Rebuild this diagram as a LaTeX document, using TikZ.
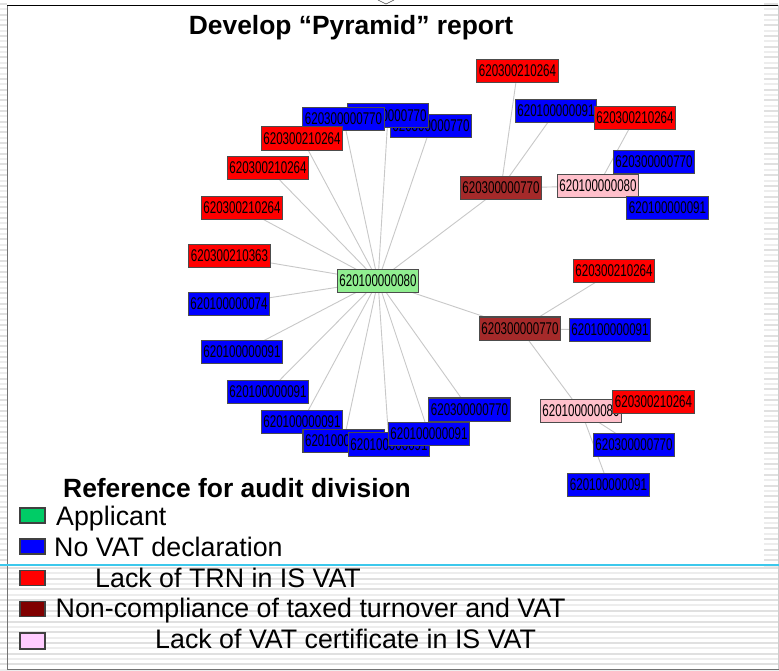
\documentclass[tikz,border=0pt]{standalone}
\usepackage{fontspec}
\setmainfont{Liberation Sans}
\newfontfamily\idfont[FakeStretch=0.68]{Liberation Sans}

\definecolor{appgreen}{HTML}{90EE90}
\definecolor{novat}{HTML}{0000FF}
\definecolor{notrn}{HTML}{FF0000}
\definecolor{mismatch}{HTML}{A52A2A}
\definecolor{nocert}{HTML}{FFC0CB}
\definecolor{keygreen}{HTML}{00CC66}
\definecolor{keymaroon}{HTML}{800000}
\definecolor{keypink}{HTML}{FFCCFF}
\definecolor{stripe}{HTML}{E0E0E0}
\definecolor{faintstripe}{HTML}{EDEDED}
\definecolor{rulecyan}{HTML}{3CC8EC}
\definecolor{linkgray}{HTML}{C8C8C8}

\pgfdeclarelayer{backdrop}
\pgfdeclarelayer{links}
\pgfsetlayers{backdrop,links,main}

\tikzset{
  idbox/.style={draw=black!70, line width=1.1pt, minimum width=81.5pt,
    minimum height=23.5pt, inner sep=0pt, text=black,
    font=\idfont\fontsize{17}{17}\selectfont},
  applicant/.style={idbox, fill=appgreen},
  novatdecl/.style={idbox, fill=novat},
  notrnbox/.style={idbox, fill=notrn},
  mismatchbox/.style={idbox, fill=mismatch},
  nocertbox/.style={idbox, fill=nocert},
  link/.style={draw=linkgray, line width=0.9pt},
  keybox/.style={draw=black!75, line width=1.1pt, minimum width=25pt,
    minimum height=15pt, inner sep=0pt},
  keytext/.style={anchor=base west, inner sep=0pt,
    font=\fontsize{26.8}{30}\selectfont},
}

\begin{document}
\begin{tikzpicture}[x=1pt,y=-1pt]
\useasboundingbox (0,0) rectangle (779,671);

% slide backdrop: white page, striped margins and striped footer band
\begin{pgfonlayer}{backdrop}
  \fill[white] (0,0) rectangle (779,671);
  \foreach \k in {0,...,52} {
    \pgfmathsetmacro\yy{3+\k*10.7}
    \pgfmathsetmacro\yw{8.35+\k*10.7}
    \fill[stripe] (0,\yy) rectangle (7,\yy+2);
    \fill[stripe] (764,\yy) rectangle (778,\yy+2);
    \fill[faintstripe] (0,\yw) rectangle (7,\yw+2);
    \fill[faintstripe] (764,\yw) rectangle (778,\yw+2);
  }
  \foreach \k in {0,...,9} {
    \pgfmathsetmacro\yy{567+\k*10.7}
    \pgfmathsetmacro\yw{572.35+\k*10.7}
    \fill[stripe] (0,\yy) rectangle (779,\yy+2);
    \fill[faintstripe] (0,\yw) rectangle (779,\yw+2);
  }
  \draw[black!55, line width=1.6pt] (7.5,5) -- (7.5,670);
  \draw[black!20, line width=1pt] (778.3,5) -- (778.3,670);
  \draw[black, line width=1.3pt] (7,5.5) -- (778,5.5);
  \draw[black!55, line width=1.6pt] (7,669.5) -- (779,669.5);
  \draw[rulecyan, line width=1.2pt] (0,565) -- (779,565);
  \draw[black!70, line width=0.6pt] (378,0) -- (386,4) -- (394,0);
\end{pgfonlayer}

% title
\node[anchor=base, inner sep=0pt, font=\bfseries\fontsize{26.4}{30}\selectfont]
  (title) at (351,35) {Develop “Pyramid” report};

% applicant in the middle
\node[applicant] (c) at (378,281) {620100000080};

% ring of direct partners
\node[novatdecl] (t3) at (431,126) {620300000770};
\node[novatdecl] (t2) at (388,115.5) {620300000770};
\node[novatdecl] (t1) at (343.5,119) {620300000770};
\node[notrnbox] (r1) at (302,138.5) {620300210264};
\node[notrnbox] (r2) at (268,168) {620300210264};
\node[notrnbox] (r3) at (242,208) {620300210264};
\node[notrnbox] (r4) at (229.5,256) {620300210363};
\node[novatdecl] (b1) at (229,304) {620100000074};
\node[novatdecl] (b2) at (242,352) {620100000091};
\node[novatdecl] (b3) at (268,392) {620100000091};
\node[novatdecl] (b4) at (302,422) {620100000091};
\node[novatdecl] (b5) at (343.7,441) {620100000091};
\node[novatdecl] (b6) at (389,444.3) {620100000091};
\node[novatdecl] (b8) at (469.5,409.7) {620300000770};
\node[novatdecl] (b7) at (429,434) {620100000091};

% upper branch
\node[mismatchbox] (m1) at (501,188) {620300000770};
\node[notrnbox] (m1a) at (517.5,71) {620300210264};
\node[novatdecl] (m1b) at (556,111) {620100000091};
\node[notrnbox] (p1a) at (635,118) {620300210264};
\node[nocertbox] (p1) at (598,186) {620100000080};
\node[novatdecl] (p1b) at (654,162) {620300000770};
\node[novatdecl] (p1c) at (667.5,208) {620100000091};

% lower branch
\node[mismatchbox] (m2) at (520,328.7) {620300000770};
\node[notrnbox] (m2a) at (614,271) {620300210264};
\node[novatdecl] (m2b) at (610,330) {620100000091};
\node[nocertbox] (p2) at (581,411) {620100000080};
\node[notrnbox] (p2a) at (653.5,402) {620300210264};
\node[novatdecl] (p2b) at (634,445) {620300000770};
\node[novatdecl] (p2c) at (608.5,485) {620100000091};

% connections, kept under the boxes
\begin{pgfonlayer}{links}
  \foreach \n in {t1,t2,t3,r1,r2,r3,r4,b1,b2,b3,b4,b5,b6,b7,b8,m1,m2}
    \draw[link] (c.center) -- (\n.center);
  \foreach \n in {m1a,m1b,p1}
    \draw[link] (m1.center) -- (\n.center);
  \foreach \n in {p1a,p1b,p1c}
    \draw[link] (p1.center) -- (\n.center);
  \foreach \n in {m2a,m2b,p2}
    \draw[link] (m2.center) -- (\n.center);
  \foreach \n in {p2a,p2b,p2c}
    \draw[link] (p2.center) -- (\n.center);
\end{pgfonlayer}

% legend
\node[keytext, font=\bfseries\fontsize{26.4}{30}\selectfont]
  (keytitle) at (63,497) {Reference for audit division};
\node[keybox, fill=keygreen] (k1) at (32.5,515.5) {};
\node[keybox, fill=novat] (k2) at (32.5,546.5) {};
\node[keybox, fill=notrn] (k3) at (32.5,578) {};
\node[keybox, fill=keymaroon] (k4) at (32.5,609) {};
\node[keybox, fill=keypink, minimum height=16pt] (k5) at (32.5,641) {};
\node[keytext] (l1) at (56,525.5) {Applicant};
\node[keytext] (l2) at (54,556) {No VAT declaration};
\node[keytext] (l3) at (95,587) {Lack of TRN in IS VAT};
\node[keytext] (l4) at (55.5,617.5) {Non-compliance of taxed turnover and VAT};
\node[keytext] (l5) at (155,648.5) {Lack of VAT certificate in IS VAT};
\end{tikzpicture}
\end{document}
